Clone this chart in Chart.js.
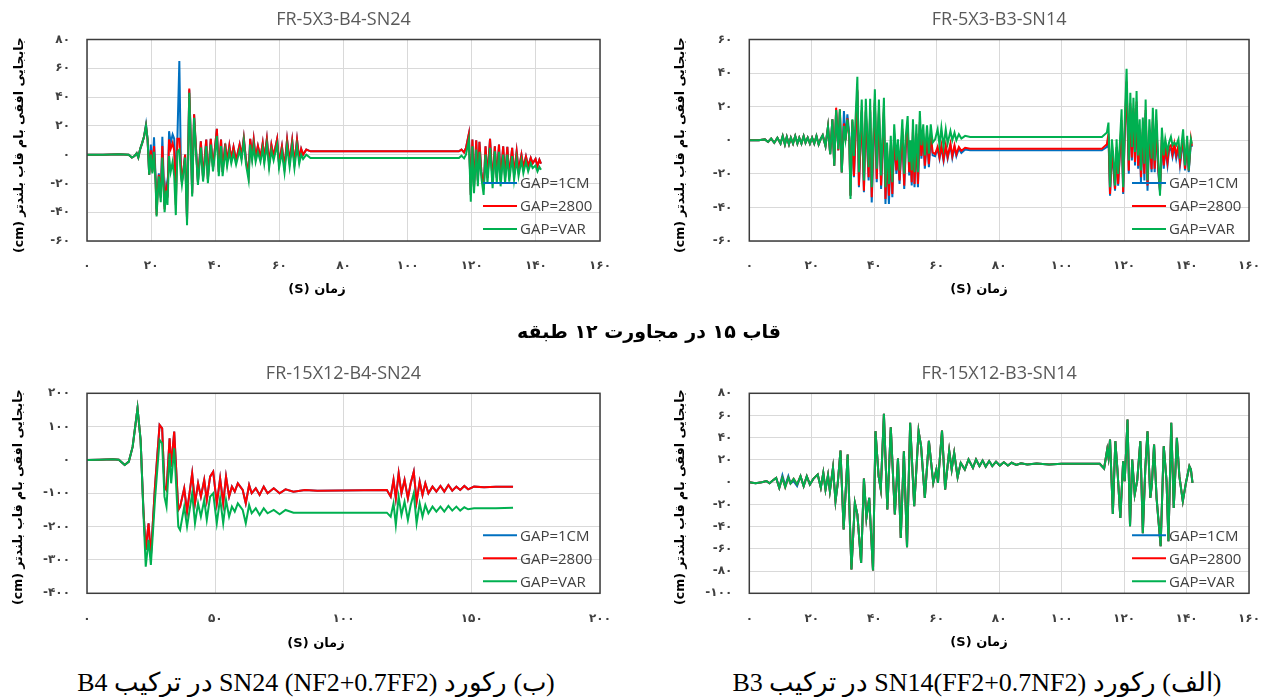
<!DOCTYPE html>
<html lang="fa">
<head>
<meta charset="utf-8">
<title>GAP roof displacement histories</title>
<script src="https://cdn.jsdelivr.net/npm/chart.js@4.4.1/dist/chart.umd.min.js"></script>
<style>
  body { margin: 0; background: #fff; }
  #page { position: relative; width: 1278px; height: 697px; overflow: hidden; background: #fff; }
  canvas { position: absolute; }
  .ytitle, .xtitle, .heading, .caption { position: absolute; white-space: nowrap; direction: rtl; color: #000; }
  .ytitle { font: bold 12.5px "DejaVu Sans"; transform: translate(-50%, -50%) rotate(-90deg); }
  .xtitle { font: bold 13px "DejaVu Sans"; transform: translate(-50%, -50%); }
  .heading { font: bold 19px "DejaVu Sans"; transform: translate(-50%, -50%); }
  .caption { font: 26px "Liberation Serif"; transform: translate(-50%, -50%); }
</style>
</head>
<body>
<div id="page">
  <canvas id="chartA" width="640" height="305" style="left:0;top:0"></canvas>
  <canvas id="chartB" width="638" height="305" style="left:640px;top:0"></canvas>
  <canvas id="chartC" width="640" height="305" style="left:0;top:350px"></canvas>
  <canvas id="chartD" width="638" height="305" style="left:640px;top:350px"></canvas>

  <div class="ytitle" style="left:18px;top:145px">جابجایی افقی بام قاب بلندتر (cm)</div>
  <div class="ytitle" style="left:679px;top:145px">جابجایی افقی بام قاب بلندتر (cm)</div>
  <div class="ytitle" style="left:17px;top:497px">جابجایی افقی بام قاب بلندتر (cm)</div>
  <div class="ytitle" style="left:679px;top:497px">جابجایی افقی بام قاب بلندتر (cm)</div>

  <div class="xtitle" style="left:317px;top:288px">زمان (S)</div>
  <div class="xtitle" style="left:979px;top:288px">زمان (S)</div>
  <div class="xtitle" style="left:316px;top:642px">زمان (S)</div>
  <div class="xtitle" style="left:979px;top:641px">زمان (S)</div>

  <div class="heading" style="left:649px;top:331px">قاب ۱۵ در مجاورت ۱۲ طبقه</div>
  <div class="caption" style="left:316px;top:682px">(ب) رکورد SN24 (NF2+0.7FF2) در ترکیب B4</div>
  <div class="caption" style="left:977px;top:682px">(الف) رکورد SN14(FF2+0.7NF2) در ترکیب B3</div>
</div>

<script>
// ===== Data =====
const seriesNames = ["GAP=1CM", "GAP=2800", "GAP=VAR"];

// FR-5X3-B4-SN24
const timeA = [0, 5, 10, 13, 14, 14.8, 15.5, 16, 16.6, 17.2, 17.8, 18.4, 18.9, 19.4, 19.9, 20.4, 20.9, 21.4, 21.7, 22, 22.4, 23, 23.5, 24.2, 24.7, 25.1, 25.6, 26.1, 26.7, 27.2, 27.7, 28.2, 28.8, 29.3, 29.6, 30.1, 30.6, 31.2, 31.9, 32.4, 32.8, 33.4, 33.9, 34.6,
  35.5, 36.2, 37.2, 37.7, 38.6, 39.3, 40.5, 41.1, 41.8, 42.3, 43.1, 43.7, 44.4, 45, 45.7, 46.5, 47.6, 48.2, 48.9, 49.6, 50.4, 50.9, 51.5, 52, 52.6, 53.3, 54.1, 54.8, 55.3, 56.1, 56.8, 57.5, 58.2, 59.3, 59.9, 60.8, 61.6, 62.4, 63.2, 64, 64.7, 65.5, 66.2, 66.8, 67.4, 68.4, 69.7, 90, 116,
  116.8, 117.6, 118.2, 119.1, 119.7, 120.2, 120.7, 121.4, 121.9, 122.4, 123, 123.7, 124.3, 124.9, 125.7, 126.5, 127.2, 127.8, 128.5, 129, 129.8, 130.4, 131.1, 131.7, 132.6, 133.2, 134, 134.6, 135.5, 136.1, 136.9, 137.6, 138.4, 139, 139.9, 140.5, 141.1, 141.6];
const gap1cmA = [0, 0, 0.3, 0, -2, -1, 1, -2, 4, 8, 12.6, 21, 10.5, -14, 7, -11, 12, -16, -38, -25, -13, -30, 12.4, -36, -22, -29, 16.3, 8, 14, 11, -20, 12, 65, -10, -19, -10, 0, -45, 45, 8, -27, 28, 8, -19,
  9.3, -16, 10.5, -17, 11, -9, 18, -12, 10.5, -12, 7.7, -5, 6.3, -3, 5.4, -4, 7, -1, 11.7, -4, -14, 11, -1, 10.5, -2, 6, -2, 8, -3, 11, -6, 7, -1, 11, -6, 5.8, -9, 10.5, -5, 10, -6, 10.5, -3, 4, 0, 3.5, 2.3, 2.3, 2.3,
  3.5, 1.6, 4.7, 14.5, -28, 10.5, -23, 10, -18, 9, -12, -24, 5.8, -16, 11, -19, 5.8, -16, 7, -18, 5.8, -16, 5.4, -15, 4.7, -14, 2.3, -11, 0, -9, -1.2, -8, -2.3, -6, -3, -8, -3.5, -6.3];
const gap2800A = [0, 0, 0.3, 0, -2, -1, 1, -2, 4, 8, 12.6, 20, 10.5, -14, 3, -12, 6, -18, -42, -28, -14, -29, 6, -38, -24, -30, 10.5, 4, 8, 3, -35, 11, 11, -8, -19, -10, 0, -45, 46, 8, -27, 28, 8, -19,
  9.3, -16, 10.5, -17, 11, -9, 18, -12, 10.5, -12, 7.7, -5, 6.3, -3, 5.4, -4, 7, -1, 11.7, -4, -14, 11, -1, 10.5, -2, 6, -2, 8, -3, 11, -6, 7, -1, 11, -6, 5.8, -9, 10.5, -5, 10, -6, 10.5, -3, 4, 0, 3.5, 2.3, 2.3, 2.3,
  3.5, 1.6, 4.7, 14.5, -28, 10.5, -23, 10, -18, 9, -12, -24, 5.8, -16, 11, -19, 5.8, -16, 7, -18, 5.8, -16, 5.4, -15, 4.7, -14, 2.3, -11, 0, -9, -1.2, -8, -2.3, -6, -3, -8, -3.5, -6.3];
const gapVarA = [0, 0, 0.3, 0, -2, -1, 1, -2, 4, 8, 12.6, 20, 10.5, -14, 0, -13, 2, -20, -43, -30, -15, -33, -2, -40, -25, -35, -1, -12, -5, -15, -42, 2, 3.5, -15, -21, -12, -2, -49, 43, 5.8, -29, 25.6, 5.8, -21,
  5, -18.7, 6, -19.8, 7, -11.7, 13, -15, 6, -15, 3, -8, 2, -6, 1, -7, 3, -4, 9.3, -7, -17.5, 7, -4, 6, -5, 2, -5, 4, -6, 7, -9.3, 3, -4, 7, -9.3, 2, -12.4, 6, -8.6, 6, -9.3, 6, -6.3, 0, -3, 0, -2.3, -2.3, -2.3,
  -0.7, -2.6, 0, 10.5, -32.7, 5.8, -26.8, 3.5, -22, 2, -16, -28, 0, -19.8, 4.7, -23.3, 2.3, -19.8, 2, -22, 0, -19.8, 0, -18.7, -1, -17.5, -3, -15, -4, -12.8, -5, -11.7, -6, -9.3, -7.6, -11.7, -8.6, -10.5];

// FR-5X3-B3-SN14
const timeB = [0, 3, 5, 6, 7, 8, 9, 10, 10.7, 11.4, 12, 12.7, 13.3, 14, 14.7, 15.4, 16, 16.7, 17.4, 18, 18.7, 19.4, 20.1, 20.8, 21.5, 22.2, 22.9, 23.5, 24.4,
  25.2, 25.9, 26.6, 27.2, 27.8, 28.5, 29, 29.6, 30.3, 30.8, 31.4, 32, 32.4, 33, 33.5, 34.6, 35.1, 36, 36.7, 37.3, 38.2, 38.7, 39.2, 40.2, 40.8, 41.5, 42.2, 43.1, 43.6, 44.1, 44.7, 45.3, 45.8, 46.4, 47.1, 47.6, 48.1, 49, 49.6, 50.1, 50.7, 51.2, 51.6, 52, 52.4, 52.9, 53.5, 54, 54.6, 55.1, 55.7, 56.2, 56.9, 57.5, 58.1, 58.7, 59.5, 60.3, 60.9, 61.5, 62.2, 62.9, 63.5, 64.4, 65, 65.7, 66.3, 67.1, 67.9, 69.1, 70.7, 112.9,
  114.5, 115, 115.5, 116.1, 116.6, 117.1, 117.6, 118.1, 118.7, 119.2, 119.7, 120.2, 120.8, 121.5, 122, 122.5, 123, 123.5, 124, 124.5, 125, 125.4, 126, 126.5, 126.9, 127.5, 128.1, 128.8, 129.2, 129.8, 130.3, 130.9, 131.5, 132.1, 132.7, 133.2, 133.9, 134.4, 135, 135.5, 136.1, 136.7, 137.4, 137.9, 138.9, 139.5, 140.2, 140.7, 141.4, 141.7];
const gap1cmB = [0, 0, 0.5, -1, 1, -1.5, 1.5, -2, 2.5, -2.5, 2, -2.5, 1.5, -2, 2.5, -2, 1.5, -2, 2.5, -1.5, 1.5, -2, 1.5, -2, 2.5, -2.5, 1, 3, -3.4,
  8.1, -8.3, 12.5, -15.2, 18, -6, 17, -19.2, 17.4, 0, 15.4, 4, -33, 11, -22, 29, -28, 17, -31, 17, -24, 17, -37, 22, -25, 16, -29, 17, -38, -8, -38, -5, -34, 2, -20, -7, -26, 5, -29, -5, 7, -21, -7, -27, 5, -28, 2, -28, 9, -11, 2, -17, 1, -16, 2, -9, -9.5, -5, -11, -4, -12.5, -4, -11, -3, -10.5, -4, -9.5, -5, -7.5, -5.5, -6, -6,
  -4, 2, -33, -6, -18, -30, -5, -27, -6, 10, -32, 3, 33, -20, 20, -12, 17, -15, 21, -17, 4, -25, 5, -24, 16, -30, 4, -19, 11, -19, 10, -18, -31, 0, -17, -5, -15, -6, -5, -10, -4, -11, -5, -15, 0, -18, -3, -19, -1, -4];
const gap2800B = [0, 0, 0.5, -1, 1, -1.5, 1.5, -2, 2.5, -2.5, 2, -2.5, 1.5, -2, 2.5, -2, 1.5, -2, 2.5, -1.5, 1.5, -2, 1.5, -2, 2.5, -2.5, 1, 3, -3.4,
  8.1, -8.3, 12.5, -15.2, 19.4, -6, 18.4, -19.2, 10, 0, 13, 1, -33, 12, -21.2, 30, -27, 18, -30, 18, -22, 18, -34, 24, -23, 18, -27, 19, -35, -6, -33, -3, -32, 4, -18, -5, -24, 7, -27, -3, 9, -19, -5, -25, 7, -26, 4, -26, 11, -9.3, 4, -15.2, 3, -14.2, 4, -7.3, -8.3, -4, -10, -3, -11.3, -3, -10, -2, -9.3, -3, -8.3, -4, -6.3, -4.5, -5, -5,
  -2.4, 4, -32, -5, -16, -29, -4, -26, -5, 12, -31, 4, 35, -18.2, 22, -10.3, 19, -13, 23, -15.2, 6, -22, 7, -20, 18, -27, 6, -17.2, 13, -17, 12, -16, -30, 2, -15, -3, -13, -4, -3, -8.3, -2, -9, -3, -13, 2, -17, -1, -18, 0.6, -3.4];
const gapVarB = [0, 0, 0.5, -1, 1, -1.5, 1.5, -2, 2.5, -2.5, 2, -2.5, 1.5, -2, 2.5, -2, 1.5, -2, 2.5, -1.5, 1.5, -2, 1.5, -2, 2.5, -2.5, 1, 3, -3.4,
  8.1, -8.3, 12.5, -15.2, 18, -5.3, 18.4, -19.2, 8.5, 0.6, 12.5, 2, -35, 12.5, -9.3, 37.8, -19, 24.3, -24, 24.7, -16, 24.7, -28, 30.3, -17, 24.3, -21, 25.3, -28, -1.4, -26, 2.6, -25, 9.5, -12, 0.6, -18, 12.5, -20, 2.6, 14.4, -13, 0, -18, 12.5, -19, 9.5, -19, 17.4, -3, 9.5, -9, 8.9, -8, 9.5, -1.4, 0.6, 6.5, -3, 7.5, -4, 6.5, -2, 5.5, 0, 4.5, 0, 3.6, 1, 2.6, 2, 2,
  4.6, 10.5, -28, 0.6, -10, -27, 0.6, -20, 0, 18.4, -28, 10.5, 42.5, -12, 28.3, -4, 25.3, -7, 29.3, -9, 12.5, -18, 13.5, -14, 24.3, -24, 12.5, -11, 19.4, -12, 18.4, -10, -33, 7.5, -9, 0.6, -7, -1.4, 2, -3, -1.4, -3, 0.6, -11, 6.5, -15, 2.6, -18, 0.6, -2];

// FR-15X12-B4-SN24
const timeC = [0, 5, 10, 12.4, 14.7, 16.3, 17.8, 19.7, 20.9, 22, 22.9, 24, 24.9, 26.5, 28.3, 29.3, 30.2, 31, 32.2, 32.8, 34, 35.6, 36.3, 37.9, 39, 41, 42.1, 43.3, 44.4, 45.7, 46.7, 48, 49.2, 50.6, 51.9, 53.1, 54.2, 55.4, 56.5, 57.6, 58.8, 60.7, 61.9, 63.2, 64.2, 65.8, 67.3, 68.9, 70.4, 72.8, 75.1, 77.4, 80.5, 85, 89.8,
  116.9, 118.4, 119.5, 120.4, 121.5, 122.6, 123.8, 125.1, 126.2, 127.4, 128.5, 129.7, 130.8, 131.9, 133.1, 134.7, 136.2, 137.8, 139.3, 140.9, 142.4, 144, 145.5, 147.1, 148.6, 150.9, 154.8, 159.4, 166.1];
const gap1cmC = [0, 1, 2, 1, -15, -5, 40, 155, 60, -150, -270, -190, -290, -80, 105, 95, -80, -90, 65, -20, 85, -150, -140, -85, -155, -40, -130, -70, -110, -60, -120, -50, -35, -130, -55, -130, -50, -110, -80, -95, -70, -90, -130, -75, -100, -85, -105, -80, -100, -85, -100, -88, -95, -90, -92,
  -90, -110, -60, -115, -40, -100, -60, -115, -70, -35, -125, -65, -105, -70, -100, -80, -95, -78, -95, -75, -92, -80, -90, -78, -88, -80, -82, -80, -80];
const gap2800C = [0, 1, 2, 1, -15, -5, 40, 155, 60, -150, -270, -190, -290, -80, 105, 95, -80, -90, 65, -20, 85, -150, -140, -85, -155, -40, -130, -70, -110, -60, -120, -50, -35, -130, -55, -130, -50, -110, -80, -95, -70, -90, -130, -75, -100, -85, -105, -80, -100, -85, -100, -88, -95, -90, -92,
  -90, -110, -60, -115, -40, -100, -60, -115, -70, -35, -125, -65, -105, -70, -100, -80, -95, -78, -95, -75, -92, -80, -90, -78, -88, -80, -82, -80, -80];
const gapVarC = [0, 1, 2, 1, -15, -5, 40, 155, 60, -160, -320, -240, -315, -120, 60, 50, -110, -140, 20, -70, 35, -200, -210, -140, -200, -100, -190, -130, -170, -120, -180, -110, -100, -190, -115, -190, -120, -170, -140, -155, -130, -150, -190, -135, -160, -145, -165, -145, -160, -150, -163, -150, -158, -158, -158,
  -158, -170, -130, -195, -110, -165, -125, -180, -135, -100, -190, -130, -170, -135, -160, -140, -155, -140, -155, -138, -152, -140, -152, -142, -148, -145, -145, -145, -143];

// FR-15X12-B3-SN14
const timeD = [0, 2, 4, 5.5, 6.5, 7.5, 8.6, 9.6, 10.6, 11.5, 12.5, 13.2, 14.2, 15.3, 16.4, 17.4, 18.4, 19.4, 20.5, 21.9, 22.9, 23.7, 24.4, 25.2, 25.8, 26.8, 27.6, 28.3, 29.2, 30.2, 31.5, 32.7, 33.8, 34.6, 35.8, 36.7, 37.5, 38.4, 39.6, 40.4, 41.4, 42.1, 43.1, 44.2, 45.3, 46.6, 47.6, 48.5, 49.5, 50.5, 51.5, 52.8, 54.2, 55, 56.2, 57.5, 58.9, 59.9, 60.4, 61.7, 62.7, 64, 64.8, 65.6, 66.7, 67.7, 69, 70.2, 71.6, 72.6, 73.7, 74.7, 75.7, 76.8, 77.8, 79, 80.2, 81.5, 82.8, 84, 85.5, 87, 89, 92, 96, 100, 112.2,
  113.6, 114.6, 115, 115.5, 116.4, 117.2, 117.9, 118.8, 119.7, 120.2, 121.1, 121.9, 122.6, 123.4, 124.2, 125.2, 126, 126.8, 127.5, 128.4, 128.9, 129.6, 130.4, 131.7, 132.7, 133.6, 134.2, 135.1, 135.9, 136.9, 137.7, 138.8, 139.8, 140.9, 141.4, 141.9];
const gap1cmD = [0, -1, 0, 1, -1, 1.5, 3.9, -5.1, 6.3, -3, 5.5, -1, 1, -3.5, 5.4, -3.5, 5.4, -2, 3, 7, -5, 8.4, -6.6, 6.3, -8.1, 13, -17, -1.5, 28.5, -42.6, 24.9, -78.6, -18.6, -29, -72.6, 3.3, -32.1, -14.1, -79.5, 45.9, 5.4, -6.6, 61.5, -24.6, 49.5, -29.1, 21.3, -50.1, 27.9, -58.5, 53.4, -21.6, 45.9, 32.4, -14.1, 37.2, -0.6, 11.4, -0.6, 46.5, -6.6, 28.5, 11.4, 26.4, 4.5, 17.4, 11.4, 20.4, 12.9, 20.4, 14.4, 19.5, 14, 19, 14.5, 18.5, 15, 18, 15, 17.5, 15.5, 17, 16, 16.8, 16, 16.5, 16.5,
  12.3, 29.4, 22, 38.4, -28.5, 36.9, 9.9, -32.1, 18.9, 0.9, 56.4, -39.6, 20.4, -11.1, 1.5, 36.9, -46, 12.9, 45.9, -14.1, -2.1, 33.9, -14.1, -57.6, 32.4, 0.9, -53.1, 53.4, -23.1, 39.9, 5.4, -17.1, -0.6, 14.4, 11.4, -0.6];
const gap2800D = [0, -1, 0, 1, -1, 1.5, 3.9, -5.1, 4, -4.5, 4, -1, 3, -2, 5.4, -3.5, 5.4, -2, 3, 7, -5, 8.4, -6.6, 6.3, -8.1, 13, -17, -1.5, 28.5, -42.6, 24.9, -78.6, -18.6, -29, -72.6, 3.3, -32.1, -14.1, -79.5, 45.9, 5.4, -6.6, 61.5, -24.6, 49.5, -29.1, 21.3, -50.1, 27.9, -58.5, 53.4, -21.6, 45.9, 32.4, -14.1, 37.2, -0.6, 11.4, -0.6, 46.5, -6.6, 28.5, 11.4, 26.4, 4.5, 17.4, 11.4, 20.4, 12.9, 20.4, 14.4, 19.5, 14, 19, 14.5, 18.5, 15, 18, 15, 17.5, 15.5, 17, 16, 16.8, 16, 16.5, 16.5,
  12.3, 29.4, 22, 38.4, -28.5, 36.9, 9.9, -32.1, 18.9, 0.9, 56.4, -39.6, 20.4, -11.1, 1.5, 36.9, -46, 12.9, 45.9, -14.1, -2.1, 33.9, -14.1, -57.6, 32.4, 0.9, -53.1, 53.4, -23.1, 39.9, 5.4, -17.1, -0.6, 14.4, 11.4, -0.6];
const gapVarD = [0, -1, 0, 1, -1, 1.5, 3.9, -5.1, 4, -4.5, 4, -1, 3, -2, 5.4, -3.5, 5.4, -2, 3, 7, -5, 8.4, -6.6, 6.3, -8.1, 13, -17, -1.5, 28.5, -42.6, 24.9, -78.6, -18.6, -29, -72.6, 3.3, -32.1, -14.1, -79.5, 45.9, 5.4, -6.6, 61.5, -24.6, 49.5, -29.1, 21.3, -50.1, 27.9, -58.5, 53.4, -21.6, 45.9, 32.4, -14.1, 37.2, -0.6, 11.4, -0.6, 46.5, -6.6, 28.5, 11.4, 26.4, 4.5, 17.4, 11.4, 20.4, 12.9, 20.4, 14.4, 19.5, 14, 19, 14.5, 18.5, 15, 18, 15, 17.5, 15.5, 17, 16, 16.8, 16, 16.5, 16.5,
  12.3, 29.4, 22, 38.4, -28.5, 36.9, 9.9, -32.1, 18.9, 0.9, 56.4, -39.6, 20.4, -11.1, 1.5, 36.9, -46, 12.9, 45.9, -14.1, -2.1, 33.9, -14.1, -57.6, 32.4, 0.9, -53.1, 53.4, -23.1, 39.9, 5.4, -17.1, -0.6, 14.4, 11.4, -0.6];

// ===== Helpers =====
const seriesColors = ["#0070C0", "#FF0000", "#00B050"];
const faDigits = "۰۱۲۳۴۵۶۷۸۹";
function toFa(v) {
  return String(v).replace(/\d/g, (d) => faDigits[d]);
}

// frame around the plot area
const plotFrame = {
  id: "plotFrame",
  afterDraw(chart) {
    const { ctx, chartArea: a } = chart;
    ctx.save();
    ctx.strokeStyle = "#3c3c3c";
    ctx.lineWidth = 1.5;
    ctx.strokeRect(a.left, a.top, a.right - a.left, a.bottom - a.top);
    ctx.restore();
  },
};

// legend drawn inside the plot, bottom right (like the Excel one)
const insideLegend = {
  id: "insideLegend",
  afterDraw(chart) {
    const { ctx, chartArea: a } = chart;
    const rows = [-58, -35, -12];
    ctx.save();
    ctx.font = '15px "Open Sans"';
    ctx.textBaseline = "middle";
    chart.data.datasets.forEach((ds, i) => {
      const x = a.right - 117;
      const y = a.bottom + rows[i];
      ctx.strokeStyle = ds.borderColor;
      ctx.lineWidth = 2;
      ctx.beginPath();
      ctx.moveTo(x, y);
      ctx.lineTo(x + 34, y);
      ctx.stroke();
      ctx.fillStyle = "#404040";
      ctx.fillText(ds.label, x + 37, y + 1);
    });
    ctx.restore();
  },
};

function makeChart(id, o) {
  const series = [o.blue, o.red, o.green];
  const datasets = series.map((vals, i) => ({
    label: seriesNames[i],
    data: o.time.map((t, k) => ({ x: t, y: vals[k] })),
    borderColor: seriesColors[i],
    backgroundColor: seriesColors[i],
    borderWidth: 2,
    pointRadius: 0,
    tension: 0,
    order: 2 - i, // green on top
  }));

  const tickFont = { family: "DejaVu Sans", size: 12, weight: "bold" };

  return new Chart(document.getElementById(id), {
    type: "line",
    data: { datasets },
    options: {
      responsive: false,
      animation: false,
      events: [],
      layout: { padding: { left: 0, right: o.padRight, top: 0, bottom: 0 } },
      plugins: {
        legend: { display: false },
        tooltip: { enabled: false },
        title: {
          display: true,
          text: o.title,
          fullSize: false,
          color: "#595959",
          font: { family: "Open Sans", size: 18, weight: "normal", lineHeight: 1.2 },
          padding: { top: o.titleTop, bottom: o.titleBottom },
        },
      },
      scales: {
        x: {
          type: "linear",
          min: 0,
          max: o.xMax,
          grid: { color: "#d9d9d9", lineWidth: 1, drawTicks: false },
          border: { display: false },
          ticks: {
            stepSize: o.xStep,
            autoSkip: false,
            maxRotation: 0,
            padding: 18,
            color: "#404040",
            font: tickFont,
            callback: (v) => toFa(v),
          },
          afterFit: (s) => { s.height = o.xHeight; },
        },
        y: {
          type: "linear",
          min: o.yMin,
          max: o.yMax,
          grid: { color: "#d9d9d9", lineWidth: 1, drawTicks: false },
          border: { display: false },
          ticks: {
            stepSize: o.yStep,
            padding: 17,
            color: "#404040",
            font: tickFont,
            callback: (v) => toFa(v),
          },
          afterFit: (s) => { s.width = o.yWidth; },
        },
      },
    },
    plugins: [plotFrame, insideLegend],
  });
}

// ===== Init =====
makeChart("chartA", {
  title: "FR-5X3-B4-SN24", time: timeA, blue: gap1cmA, red: gap2800A, green: gapVarA,
  xMax: 160, xStep: 20, yMin: -60, yMax: 80, yStep: 20,
  yWidth: 87, padRight: 40, titleTop: 9.2, titleBottom: 8.7, xHeight: 64,
});
makeChart("chartB", {
  title: "FR-5X3-B3-SN14", time: timeB, blue: gap1cmB, red: gap2800B, green: gapVarB,
  xMax: 160, xStep: 20, yMin: -60, yMax: 60, yStep: 20,
  yWidth: 109.3, padRight: 16, titleTop: 9.2, titleBottom: 8.7, xHeight: 64,
});
makeChart("chartC", {
  title: "FR-15X12-B4-SN24", time: timeC, blue: gap1cmC, red: gap2800C, green: gapVarC,
  xMax: 200, xStep: 50, yMin: -400, yMax: 200, yStep: 100,
  yWidth: 87, padRight: 40, titleTop: 13.2, titleBottom: 8.5, xHeight: 61.7,
});
makeChart("chartD", {
  title: "FR-15X12-B3-SN14", time: timeD, blue: gap1cmD, red: gap2800D, green: gapVarD,
  xMax: 160, xStep: 20, yMin: -100, yMax: 80, yStep: 20,
  yWidth: 109.3, padRight: 16, titleTop: 13.2, titleBottom: 8.5, xHeight: 61.7,
});
</script>
</body>
</html>
